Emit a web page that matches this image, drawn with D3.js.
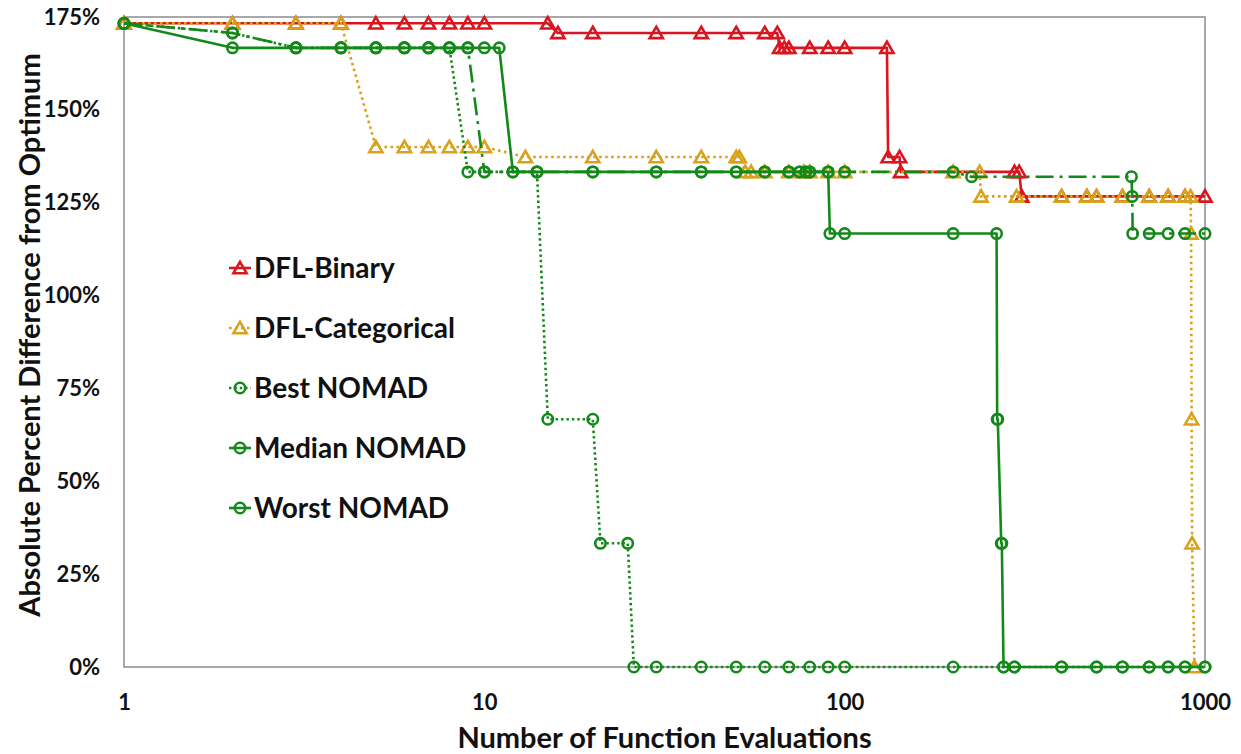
<!DOCTYPE html>
<html>
<head>
<meta charset="utf-8">
<script src="https://cdn.jsdelivr.net/npm/d3@7"></script>
<style>
  html, body { margin: 0; padding: 0; background: #fff; }
  svg { display: block; font-family: Lato, "Open Sans", sans-serif; }
</style>
</head>
<body>
<svg id="chart" width="1241" height="754"></svg>
<script>
// Axis ticks
const xTicks = [1, 10, 100, 1000];
const yTicks = [0, 25, 50, 75, 100, 125, 150, 175];

// DFL-Binary
const binaryEvals = [1,2,3,4,5,6,7,8,9,10,15,16,20,30,40,50,60,65,66,68,70,80,90,100,131,132,142,143,296,305,310,400,470,500,590,700,790,880,1000];
const binaryPct   = [173.3,173.3,173.3,173.3,173.3,173.3,173.3,173.3,173.3,173.3,173.3,170.7,170.7,170.7,170.7,170.7,170.7,170.7,166.7,166.7,166.7,166.7,166.7,166.7,166.7,137.3,137.3,133.3,133.3,133.3,126.7,126.7,126.7,126.7,126.7,126.7,126.7,126.7,126.7];

// DFL-Categorical
const categoricalEvals = [1,2,3,4,5,6,7,8,9,10,13,20,30,40,50,51,53,55,60,70,77,80,90,100,200,237,239,300,400,470,500,590,700,790,880,912,915,918,921,935];
const categoricalPct   = [173.3,173.3,173.3,173.3,140,140,140,140,140,140,137.3,137.3,137.3,137.3,137.3,137.3,133.3,133.3,133.3,133.3,133.3,133.3,133.3,133.3,133.3,133.3,126.7,126.7,126.7,126.7,126.7,126.7,126.7,126.7,126.7,126.7,116.7,66.7,33.3,0];

// Best NOMAD
const bestEvals = [1,2,3,4,5,6,7,8,9,10,14,15,20,21,25,26,30,40,50,60,70,80,90,100,200,276,296,400,500,590,700,790,880,1000];
const bestPct   = [173.3,170.7,166.7,166.7,166.7,166.7,166.7,166.7,133.3,133.3,133.3,66.7,66.7,33.3,33.3,0,0,0,0,0,0,0,0,0,0,0,0,0,0,0,0,0,0,0];

// Median NOMAD
const medianEvals = [1,2,3,4,5,6,7,8,9,10,12,14,20,30,40,50,60,70,75,78,80,90,100,200,225,625,628,630,700,790,880,1000];
const medianPct   = [173.3,170.7,166.7,166.7,166.7,166.7,166.7,166.7,166.7,133.3,133.3,133.3,133.3,133.3,133.3,133.3,133.3,133.3,133.3,133.3,133.3,133.3,133.3,133.3,132,132,126.7,116.7,116.7,116.7,116.7,116.7];

// Worst NOMAD
const worstEvals = [1,2,3,4,5,6,7,8,9,10,11,12,14,20,30,40,50,60,70,75,78,80,90,91,100,200,264,265,266,272,273,276,296,400,500,590,700,790,880,1000];
const worstPct   = [173.3,166.7,166.7,166.7,166.7,166.7,166.7,166.7,166.7,166.7,166.7,133.3,133.3,133.3,133.3,133.3,133.3,133.3,133.3,133.3,133.3,133.3,133.3,116.7,116.7,116.7,116.7,66.7,66.7,33.3,33.3,0,0,0,0,0,0,0,0,0];

const seriesNames = ["DFL-Binary", "DFL-Categorical", "Best NOMAD", "Median NOMAD", "Worst NOMAD"];

const RED = "#d9161f", GOLD = "#d9a21c", GREEN = "#13891a";
const DASH_DOT = "18,6,3,6";

const series = [
  { name: seriesNames[0], xs: binaryEvals,      ys: binaryPct,      color: RED,   dash: null,      legendDash: null,      marker: "tri" },
  { name: seriesNames[1], xs: categoricalEvals, ys: categoricalPct, color: GOLD,  dash: "2.6,3.4", legendDash: "2.6,3.4", marker: "tri" },
  { name: seriesNames[2], xs: bestEvals,        ys: bestPct,        color: GREEN, dash: "2.4,3",   legendDash: "2.4,3",   marker: "circ" },
  { name: seriesNames[3], xs: medianEvals,      ys: medianPct,      color: GREEN, dash: DASH_DOT,  legendDash: null,      marker: "circ" },
  { name: seriesNames[4], xs: worstEvals,       ys: worstPct,       color: GREEN, dash: null,      legendDash: null,      marker: "circ" }
];

const svg = d3.select("#chart");
const plot = { left: 124, right: 1205, top: 17, bottom: 667 };

const x = d3.scaleLog().domain([1, 1000]).range([plot.left, plot.right]);
const y = d3.scaleLinear().domain([0, 175]).range([plot.bottom, plot.top]);

// Plot frame
svg.append("rect")
  .attr("x", plot.left).attr("y", plot.top)
  .attr("width", plot.right - plot.left).attr("height", plot.bottom - plot.top)
  .attr("fill", "none").attr("stroke", "#8c8c8c").attr("stroke-width", 1.5);

// Axes
const yAxis = svg.append("g")
  .attr("transform", `translate(${plot.left},0)`)
  .call(d3.axisLeft(y).tickValues(yTicks).tickFormat(d => d + "%").tickSize(0).tickPadding(24));
const xAxis = svg.append("g")
  .attr("transform", `translate(0,${plot.bottom})`)
  .call(d3.axisBottom(x).tickValues(xTicks).tickFormat(d3.format("d")).tickSize(0));
[yAxis, xAxis].forEach(g => {
  g.select(".domain").remove();
  g.selectAll("text")
    .attr("font-family", "Lato, sans-serif")
    .attr("font-weight", 700)
    .attr("font-size", 22)
    .attr("fill", "#111");
});
xAxis.selectAll("text").attr("y", 35).attr("dy", "0.35em");

// Axis titles
svg.append("text")
  .attr("x", (plot.left + plot.right) / 2)
  .attr("y", 738).attr("dy", "0.35em")
  .attr("text-anchor", "middle")
  .attr("font-weight", 700).attr("font-size", 29).attr("fill", "#111")
  .text("Number of Function Evaluations");
svg.append("text")
  .attr("transform", `translate(30,${(plot.top + plot.bottom) / 2 - 7}) rotate(-90)`)
  .attr("dy", "0.35em")
  .attr("text-anchor", "middle")
  .attr("font-weight", 700).attr("font-size", 29).attr("fill", "#111")
  .text("Absolute Percent Difference from Optimum");

// Marker shapes
const triPath = "M0,-6.2L6.6,5.2L-6.6,5.2Z";
function drawMarker(g, kind, cx, cy, color) {
  if (kind === "tri") {
    g.append("path").attr("d", triPath)
      .attr("transform", `translate(${cx},${cy})`)
      .attr("fill", "none").attr("stroke", color).attr("stroke-width", 2.6)
      .attr("stroke-linejoin", "miter");
  } else {
    g.append("circle").attr("cx", cx).attr("cy", cy).attr("r", 5.2)
      .attr("fill", "none").attr("stroke", color).attr("stroke-width", 2.6);
  }
}

const line = d3.line().x(d => x(d[0])).y(d => y(d[1]));

series.forEach(s => {
  const g = svg.append("g");
  const pts = s.xs.map((v, i) => [v, s.ys[i]]);
  g.append("path").datum(pts)
    .attr("d", line)
    .attr("fill", "none")
    .attr("stroke", s.color)
    .attr("stroke-width", 2.6)
    .attr("stroke-dasharray", s.dash)
    .attr("stroke-linejoin", "round");
  pts.forEach(p => drawMarker(g, s.marker, x(p[0]), y(p[1]), s.color));
});

// Legend
const legend = svg.append("g");
series.forEach((s, i) => {
  const ly = 268 + i * 60;
  legend.append("line")
    .attr("x1", 229).attr("x2", 251).attr("y1", ly).attr("y2", ly)
    .attr("stroke", s.color).attr("stroke-width", 2.6)
    .attr("stroke-dasharray", s.legendDash);
  drawMarker(legend, s.marker, 240, ly, s.color);
  legend.append("text")
    .attr("x", 254).attr("y", ly).attr("dy", "0.36em")
    .attr("font-weight", 700).attr("font-size", 28).attr("fill", "#111")
    .text(s.name);
});
</script>
</body>
</html>
